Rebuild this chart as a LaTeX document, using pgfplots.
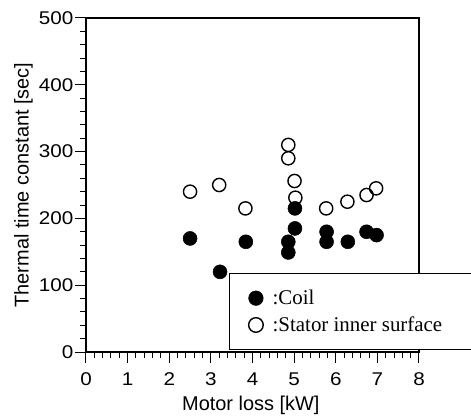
\documentclass[border=0pt]{standalone}
\usepackage{fontspec}
\setmainfont{Liberation Serif}
\setsansfont{Liberation Sans}
\newfontfamily\tickfont[FakeStretch=1.12]{Liberation Sans}
\usepackage{pgfplots}
\pgfplotsset{compat=1.18}
\begin{document}
\begin{tikzpicture}[x=1bp,y=1bp]
\begin{axis}[name=ax, scale only axis, width=333bp, height=334bp,
  xmin=0, xmax=8, ymin=0, ymax=500,
  xtick={0,1,...,8}, ytick={0,100,...,500},
  minor x tick num=4, minor y tick num=4,
  tick pos=left, tick align=outside,
  major tick length=10.5bp, minor tick length=5.5bp,
  every tick/.style={black, line width=1bp},
  axis line style={line width=1.8bp},
  /pgf/number format/assume math mode=true,
  ticklabel style={font=\tickfont\fontsize{18.5}{21}\selectfont},
  xticklabel style={anchor=north, inner sep=0pt, yshift=-10bp},
  yticklabel style={anchor=east, inner sep=0pt, xshift=-2bp},
  label style={font=\sffamily\fontsize{20}{24}\selectfont},
  xlabel={Motor loss [kW]},
  ylabel={Thermal time constant [sec]},
  xlabel style={at={(axis description cs:0.495,-0.1587)}, anchor=center},
  ylabel style={at={(axis description cs:-0.188,0.5)}, anchor=center},
  reverse legend,
  legend cell align=left,
  legend style={at={(axis description cs:0.4294,0.2365)}, anchor=north west,
    draw=black, line width=1.3bp, fill=white,
    font=\rmfamily\fontsize{21}{25}\selectfont,
    inner xsep=19bp, inner ysep=16.5bp, row sep=10.7bp,
    nodes={inner sep=0pt}},
  legend image code/.code={\path[draw=none] (-7bp,0bp) -- (16.7bp,0bp);
    \draw[#1, mark size=7.3bp] plot coordinates {(0bp,0bp)};},
]
\addplot[only marks, mark=o, mark size=6.6bp, mark options={draw=black, line width=1.4bp}]
  coordinates {(2.50,240) (3.20,250) (3.83,215) (4.86,310) (4.86,290) (5.01,256)
  (5.03,231) (5.77,215) (6.28,225) (6.74,235) (6.97,245)};
\addlegendentry{:Stator inner surface\rule{40bp}{0pt}}
\addplot[only marks, mark=*, mark size=7bp, mark options={draw=black, fill=black, line width=0.5bp}]
  coordinates {(2.50,170) (3.22,120) (3.84,165) (4.86,165) (4.86,149) (5.02,185)
  (5.02,215) (5.78,180) (5.78,165) (6.29,165) (6.74,180) (6.98,175)};
\addlegendentry{:Coil}
\end{axis}
\pgfresetboundingbox
\path ([shift={(-86bp,-65bp)}]ax.south west) rectangle ([shift={(385bp,352bp)}]ax.south west);
\end{tikzpicture}
\end{document}
